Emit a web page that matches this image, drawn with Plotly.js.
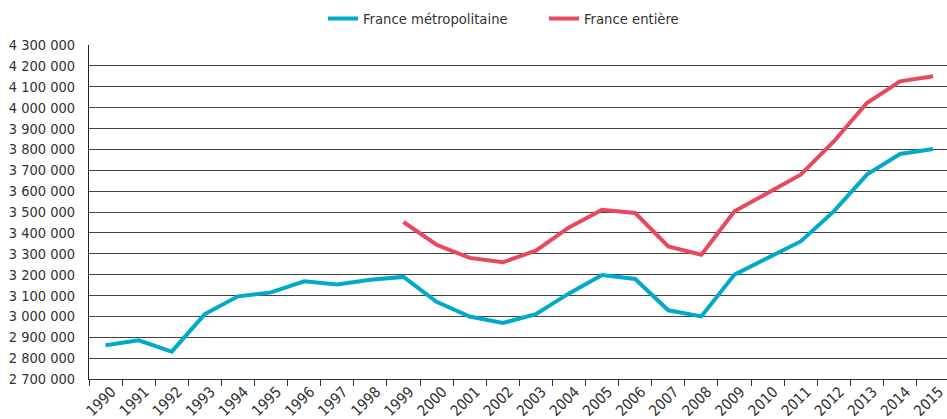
<!DOCTYPE html>
<html>
<head>
<meta charset="utf-8">
<script src="https://cdn.plot.ly/plotly-3.0.1.min.js"></script>
<style>
html,body{margin:0;padding:0;background:#fff;}
#chart{width:947px;height:419px;}
</style>
</head>
<body>
<div id="chart"></div>
<script>
var years = ["1990","1991","1992","1993","1994","1995","1996","1997","1998","1999","2000","2001","2002","2003","2004","2005","2006","2007","2008","2009","2010","2011","2012","2013","2014","2015"];
var metropole = [2862000,2885000,2831000,3011000,3096000,3115000,3168000,3153000,3175000,3189000,3070000,2999000,2968000,3011000,3110000,3198000,3179000,3029000,3000000,3200000,3280000,3359000,3503000,3679000,3778000,3802000];
var entiere = [null,null,null,null,null,null,null,null,null,3452000,3343000,3280000,3259000,3315000,3426000,3511000,3495000,3335000,3295000,3503000,3591000,3679000,3838000,4022000,4126000,4150000];
var seriesNames = ["France métropolitaine","France entière"];
var yTicks = [2700000,2800000,2900000,3000000,3100000,3200000,3300000,3400000,3500000,3600000,3700000,3800000,3900000,4000000,4100000,4200000,4300000];

var FONT = "DejaVu Sans Condensed, Liberation Sans Narrow, sans-serif";

var traces = [
  {x: years, y: metropole, name: seriesNames[0], type: "scatter", mode: "lines",
   line: {color: "#00aac8", width: 4}, connectgaps: false},
  {x: years, y: entiere, name: seriesNames[1], type: "scatter", mode: "lines",
   line: {color: "#e8495c", width: 4}, connectgaps: false}
];

var layout = {
  width: 947, height: 419,
  margin: {l: 89, r: 0, t: 45, b: 40, pad: 0},
  paper_bgcolor: "#fff", plot_bgcolor: "#fff",
  separators: ", ",
  font: {family: FONT, size: 14.5, color: "#333"},
  showlegend: true,
  legend: {orientation: "h", x: 0.2727, xanchor: "left", y: 1.078, yanchor: "middle",
           font: {family: FONT, size: 14.7, color: "#333"}, itemwidth: 30,
           entrywidth: 176, entrywidthmode: "pixels"},
  xaxis: {
    type: "category", range: [-0.5, 25.42],
    tickson: "boundaries", ticks: "outside", ticklen: 6, tickcolor: "#333", tickwidth: 1,
    showline: true, linecolor: "#333", linewidth: 1,
    showgrid: false, zeroline: false,
    tickangle: -45,
    ticklabelshift: 6, ticklabelstandoff: -3,
    tickfont: {family: FONT, size: 15, color: "#333"}
  },
  yaxis: {
    range: [2700000, 4300000],
    tickmode: "array", tickvals: yTicks,
    tickformat: ",d",
    showgrid: true, gridcolor: "#444", gridwidth: 1,
    showline: true, linecolor: "#222", linewidth: 1,
    zeroline: false, ticks: "",
    ticklabelstandoff: 10,
    tickfont: {family: FONT, size: 14.5, color: "#333"}
  }
};

Plotly.newPlot("chart", traces, layout, {displayModeBar: false, staticPlot: true});
</script>
</body>
</html>
